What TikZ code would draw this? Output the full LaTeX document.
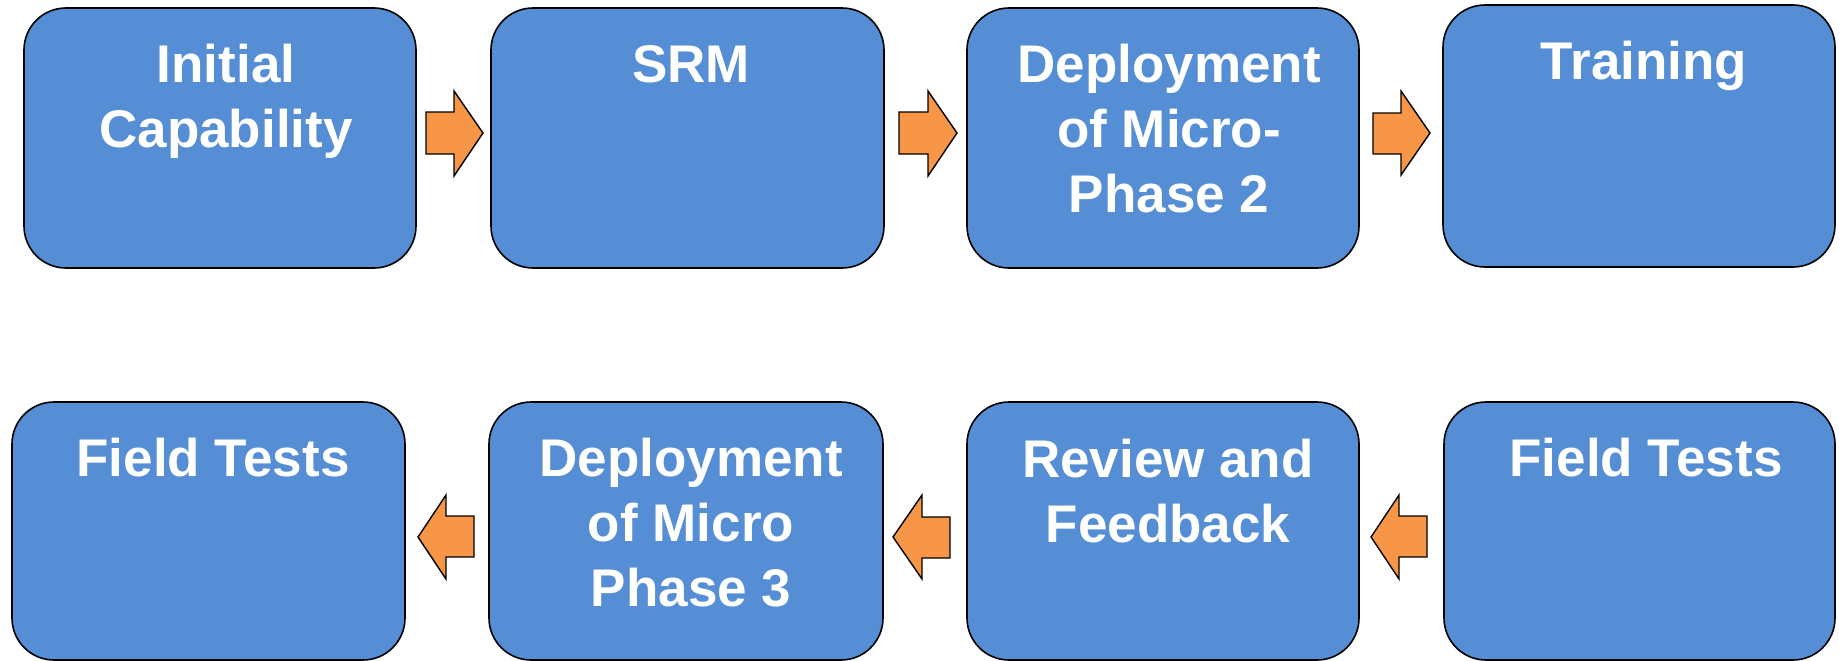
\documentclass[tikz,border=0pt]{standalone}
\usepackage{fontspec}
\setmainfont{Liberation Sans}
\definecolor{boxblue}{RGB}{85,142,213}
\definecolor{arroworange}{RGB}{247,150,70}
\begin{document}
\begin{tikzpicture}[x=1pt,y=-1pt,
  stepbox/.style={draw=black,line width=1.6pt,fill=boxblue,rounded corners=42pt},
  steplabel/.style={anchor=base,align=center,text=white,inner sep=0pt,
    font=\bfseries\fontsize{53}{65}\selectfont},
  blockarrow/.style={draw=black,line width=1.4pt,fill=arroworange,line join=miter}]
\useasboundingbox (0,0) rectangle (1839,661);
% top row boxes
\draw[stepbox] (24,8) rectangle (416,268);
\draw[stepbox] (491,8) rectangle (884,268);
\draw[stepbox] (967,8) rectangle (1359,268);
\draw[stepbox] (1443,5) rectangle (1835,267);
% bottom row boxes
\draw[stepbox] (12,402) rectangle (405,660);
\draw[stepbox] (489,402) rectangle (883,660);
\draw[stepbox] (967,402) rectangle (1359,660);
\draw[stepbox] (1444,402) rectangle (1835,660);
% labels (anchored at the baseline of the last line)
\node[steplabel] (t1) at (226,147) {Initial\\Capability};
\node[steplabel] (t2) at (691,82) {SRM};
\node[steplabel] (t3) at (1169,212) {Deployment\\of Micro-\\Phase 2};
\node[steplabel] (t4) at (1644,80) {Training};
\node[steplabel] (b1) at (213,476) {Field Tests};
\node[steplabel] (b2) at (691,606) {Deployment\\of Micro\\Phase 3};
\node[steplabel] (b3) at (1168,542) {Review and\\Feedback};
\node[steplabel] (b4) at (1646,476) {Field Tests};
% right-pointing arrows (top row)
\draw[blockarrow] (426,112) -- (454,112) -- (454,91) -- (483,133) -- (454,176) -- (454,154) -- (426,154) -- cycle;
\draw[blockarrow] (899,112) -- (928,112) -- (928,91) -- (957,133) -- (928,176) -- (928,154) -- (899,154) -- cycle;
\draw[blockarrow] (1373,113) -- (1401,113) -- (1401,91) -- (1430,133) -- (1401,175) -- (1401,154) -- (1373,154) -- cycle;
% left-pointing arrows (bottom row)
\draw[blockarrow] (474,516) -- (446,516) -- (446,495) -- (418,537) -- (446,579) -- (446,557) -- (474,557) -- cycle;
\draw[blockarrow] (950,517) -- (922,517) -- (922,495) -- (893,537) -- (922,579) -- (922,558) -- (950,558) -- cycle;
\draw[blockarrow] (1427,516) -- (1399,516) -- (1399,495) -- (1371,537) -- (1399,579) -- (1399,557) -- (1427,557) -- cycle;
\end{tikzpicture}
\end{document}
